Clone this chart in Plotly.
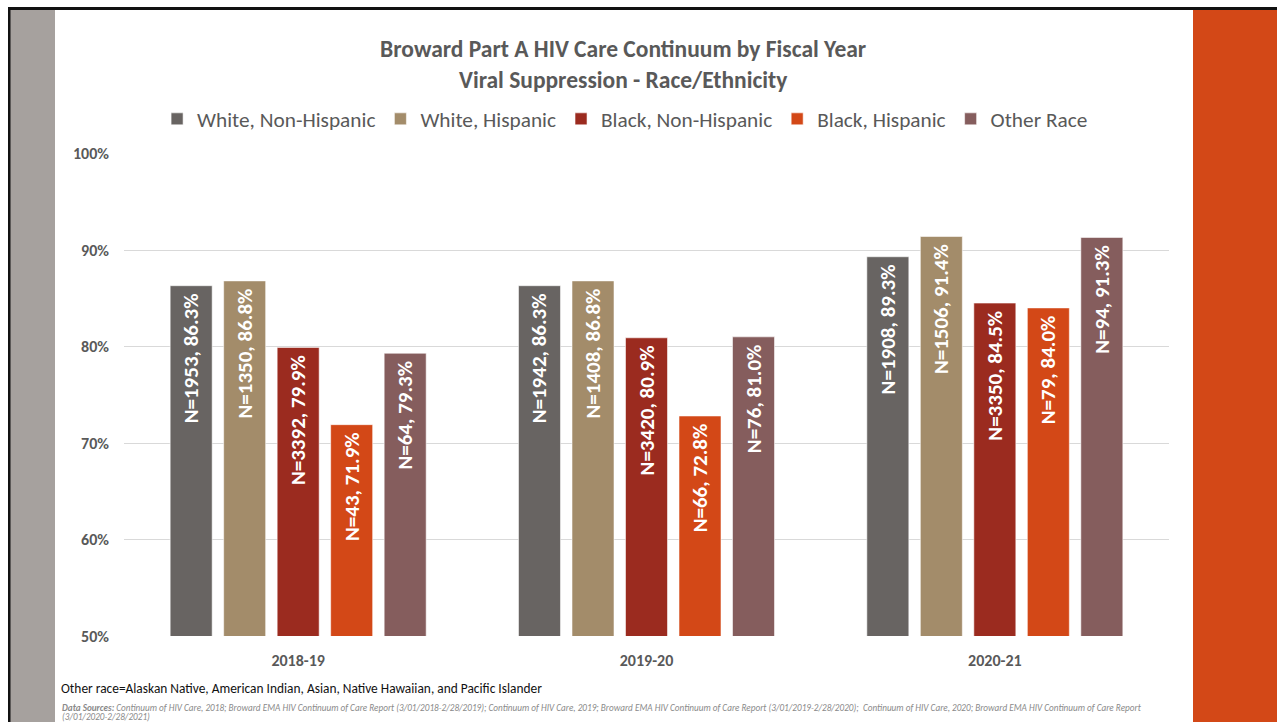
import plotly.graph_objects as go

# Fiscal years shown on the x axis
years = ["2018-19", "2019-20", "2020-21"]

# Race/ethnicity groups and their bar colours
groups = ["White, Non-Hispanic", "White, Hispanic", "Black, Non-Hispanic",
          "Black, Hispanic", "Other Race"]
colors = ["#686462", "#A38C6A", "#9B2B1F", "#D34817", "#855D5D"]

# Percent virally suppressed, per group, per fiscal year
white_nh_pct = [86.3, 86.3, 89.3]
white_h_pct = [86.8, 86.8, 91.4]
black_nh_pct = [79.9, 80.9, 84.5]
black_h_pct = [71.9, 72.8, 84.0]
other_pct = [79.3, 81.0, 91.3]

# Number of clients (N) per group, per fiscal year
white_nh_n = [1953, 1942, 1908]
white_h_n = [1350, 1408, 1506]
black_nh_n = [3392, 3420, 3350]
black_h_n = [43, 66, 79]
other_n = [64, 76, 94]

pct_series = [white_nh_pct, white_h_pct, black_nh_pct, black_h_pct, other_pct]
n_series = [white_nh_n, white_h_n, black_nh_n, black_h_n, other_n]

W, H = 1277, 722
FONT = "Carlito, Lato, 'Open Sans', sans-serif"
TXT = "#595959"


def px_x(v):
    return v / W


def px_y(v):
    return 1 - v / H


fig = go.Figure()
for name, color, pct, n in zip(groups, colors, pct_series, n_series):
    fig.add_trace(go.Bar(
        name=name,
        x=years,
        y=pct,
        customdata=n,
        marker=dict(color=color, line=dict(color="rgba(255,255,255,0.55)", width=1)),
        # trailing no-break space keeps the label a little below the bar top
        texttemplate="N=%{customdata}, %{y:.1f}%\u00a0",
        textposition="inside",
        insidetextanchor="end",
        textangle=-90,
        textfont=dict(family=FONT, size=21, color="white", weight="bold"),
        hoverinfo="skip",
    ))

# Slide frame and side bands
shapes = [
    dict(type="rect", xref="paper", yref="paper", x0=px_x(10), x1=px_x(55),
         y0=0, y1=px_y(10), fillcolor="#A6A19E", line=dict(width=0), layer="below"),
    dict(type="rect", xref="paper", yref="paper", x0=px_x(1193), x1=1,
         y0=0, y1=px_y(10), fillcolor="#D34817", line=dict(width=0), layer="below"),
    dict(type="rect", xref="paper", yref="paper", x0=px_x(8), x1=1,
         y0=px_y(10), y1=px_y(7), fillcolor="#111111", line=dict(width=0), layer="below"),
    dict(type="rect", xref="paper", yref="paper", x0=px_x(8), x1=px_x(10.5),
         y0=0, y1=px_y(7), fillcolor="#111111", line=dict(width=0), layer="below"),
]

src_font = dict(family=FONT, size=9.2, color="#8a8a8a")
annotations = [
    dict(text="Other race=Alaskan Native, American Indian, Asian, Native Hawaiian, and Pacific Islander",
         xref="paper", yref="paper", x=px_x(59), y=px_y(688), xanchor="left", yanchor="middle",
         showarrow=False, font=dict(family=FONT, size=13.4, color="#111111")),
    dict(text="<b><i>Data Sources:</i></b><i> Continuum of HIV Care, 2018; Broward EMA HIV Continuum of Care Report "
              "(3/01/2018-2/28/2019); Continuum of HIV Care, 2019; Broward EMA HIV Continuum of Care Report "
              "(3/01/2019-2/28/2020);  Continuum of HIV Care, 2020; Broward EMA HIV Continuum of Care Report</i>",
         xref="paper", yref="paper", x=px_x(60), y=px_y(707), xanchor="left", yanchor="middle",
         align="left", showarrow=False, font=src_font),
    dict(text="<i>(3/01/2020-2/28/2021)</i>",
         xref="paper", yref="paper", x=px_x(60), y=px_y(716), xanchor="left", yanchor="middle",
         align="left", showarrow=False, font=src_font),
]

fig.update_layout(
    width=W, height=H,
    margin=dict(l=0, r=0, t=0, b=0, autoexpand=False),
    paper_bgcolor="white", plot_bgcolor="white",
    font=dict(family=FONT, color=TXT),
    title=dict(
        text="<b>Broward Part A HIV Care Continuum by Fiscal Year<br>Viral Suppression - Race/Ethnicity</b>",
        x=0.488, xanchor="center", y=px_y(57), yanchor="middle",
        font=dict(family=FONT, size=23.5, color=TXT),
    ),
    legend=dict(
        orientation="h", x=0.4895, xanchor="center", y=px_y(119), yanchor="middle",
        font=dict(family=FONT, size=21.3, color=TXT), traceorder="normal",
        itemclick=False, itemdoubleclick=False,
    ),
    barmode="group",
    bargap=0.232,
    bargroupgap=0.215,
    xaxis=dict(
        domain=[px_x(124), px_x(1169)], automargin=False,
        showgrid=False, showline=False, zeroline=False, ticks="",
        tickfont=dict(family=FONT, size=16, color=TXT, weight="bold"),
        ticklabelstandoff=13,
    ),
    yaxis=dict(
        domain=[px_y(636), px_y(153.5)], automargin=False,
        range=[50, 100], dtick=10, ticksuffix="%",
        showgrid=True, gridcolor="#D9D9D9", gridwidth=1,
        zeroline=False, showline=False, ticks="",
        tickfont=dict(family=FONT, size=16, color=TXT, weight="bold"),
        ticklabelstandoff=14,
    ),
    uniformtext=dict(minsize=21, mode="show"),
    shapes=shapes,
    annotations=annotations,
)

fig.write_html("out.html")
